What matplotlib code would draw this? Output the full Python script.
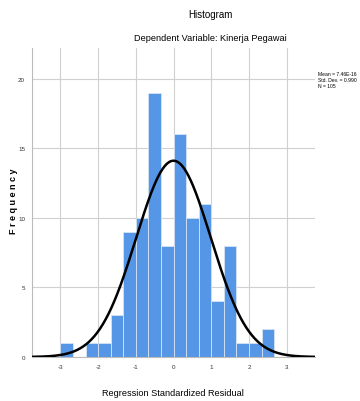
import numpy as np
import matplotlib.pyplot as plt
from matplotlib import font_manager

# bin edges (width 1/3) and counts
bin_left = [-3.0, -2.667, -2.333, -2.0, -1.667, -1.333, -1.0, -0.667, -0.333,
            0.0, 0.333, 0.667, 1.0, 1.333, 1.667, 2.0, 2.333]
counts = [1, 0, 1, 1, 3, 9, 10, 19, 8, 16, 10, 11, 4, 8, 1, 1, 2]
bin_width = 1 / 3
mean = 7.46e-16
std_dev = 0.990
n = 105
xticks = [-3, -2, -1, 0, 1, 2, 3]
yticks = [0, 5, 10, 15, 20]

names = {f.name for f in font_manager.fontManager.ttflist}
fam = 'Liberation Sans Narrow' if 'Liberation Sans Narrow' in names else 'Liberation Sans'
plt.rcParams['font.family'] = [fam, 'DejaVu Sans']
plt.rcParams['axes.unicode_minus'] = False

fig = plt.figure(figsize=(3.6, 4.02), dpi=100)
ax = fig.add_axes([0.089, 0.1095, 0.786, 0.7685])

ax.bar(bin_left, counts, width=bin_width, align='edge', color='#5596e6',
       edgecolor='#d6e4f5', linewidth=0.6, zorder=2)

x = np.linspace(-3.75, 3.75, 400)
pdf = n * bin_width * np.exp(-0.5 * ((x - mean) / std_dev) ** 2) / (std_dev * np.sqrt(2 * np.pi))
ax.plot(x, pdf, color='black', linewidth=1.8, zorder=3)

ax.set_xlim(-3.75, 3.75)
ax.set_ylim(0, 22.2)
ax.set_xticks(xticks)
ax.set_yticks(yticks)
ax.grid(True, color='#d0d0d0', linewidth=0.8, zorder=0)
ax.set_axisbelow(True)
for s in ['top', 'right']:
    ax.spines[s].set_visible(False)
ax.spines['left'].set_color('#bbbbbb')
ax.spines['bottom'].set_color('#bbbbbb')
ax.tick_params(length=0, labelsize=4.5, colors='#333333', pad=5)

fig.text(0.585, 0.962, 'Histogram', ha='center', va='center', fontsize=7)
fig.text(0.585, 0.905, 'Dependent Variable: Kinerja Pegawai', ha='center', va='center', fontsize=6.6)
fig.text(0.882, 0.80, 'Mean = 7.46E-16\nStd. Dev. = 0.990\nN = 105', ha='left', va='center',
         fontsize=3.6, linespacing=1.15)
fig.text(0.48, 0.022, 'Regression Standardized Residual', ha='center', va='center', fontsize=6.6)
fig.text(0.038, 0.5, 'F r e q u e n c y', rotation=90, ha='center', va='center',
         fontsize=6.5, fontweight='bold')

fig.savefig('out.png', dpi=100)
